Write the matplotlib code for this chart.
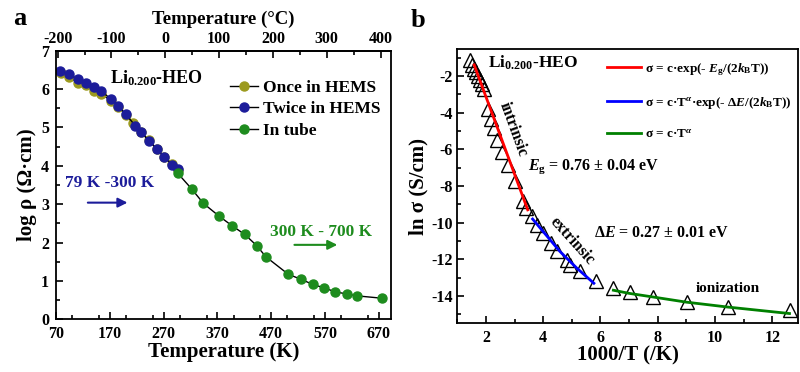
import numpy as np
import matplotlib
matplotlib.use("Agg")
import matplotlib.pyplot as plt
from matplotlib.ticker import MultipleLocator

plt.rcParams["font.family"] = ["Liberation Serif", "DejaVu Serif"]
plt.rcParams["font.weight"] = "bold"
plt.rcParams["axes.unicode_minus"] = False
plt.rcParams["mathtext.fontset"] = "custom"
plt.rcParams["mathtext.rm"] = "Liberation Serif:bold"
plt.rcParams["mathtext.it"] = "Liberation Serif:bold:italic"
plt.rcParams["mathtext.bf"] = "Liberation Serif:bold"

# panel a: log resistivity vs temperature (K)
T_once = [79, 94, 110, 125, 140, 153, 172, 186, 200, 213, 228, 243, 257, 271, 286, 297]
rho_once = [6.43, 6.32, 6.17, 6.10, 5.95, 5.88, 5.70, 5.53, 5.32, 5.12, 4.88, 4.66, 4.45, 4.24, 4.05, 3.88]
T_twice = [77, 94, 110, 125, 141, 153, 172, 186, 200, 217, 228, 243, 257, 271, 286, 297]
rho_twice = [6.47, 6.39, 6.26, 6.17, 6.05, 5.96, 5.74, 5.56, 5.34, 5.05, 4.87, 4.65, 4.44, 4.23, 4.03, 3.91]
T_tube = [296, 322, 344, 373, 398, 421, 443, 460, 502, 526, 547, 568, 588, 610, 630, 675]
rho_tube = [3.81, 3.40, 3.02, 2.69, 2.43, 2.21, 1.92, 1.63, 1.17, 1.04, 0.91, 0.82, 0.72, 0.66, 0.61, 0.55]

# panel b: ln sigma vs 1000/T
invT = [1.43, 1.52, 1.60, 1.66, 1.72, 1.80, 1.87, 1.95, 2.08, 2.18, 2.29, 2.40, 2.55, 2.78,
        3.02, 3.30, 3.40, 3.60, 3.77, 4.00, 4.26, 4.49, 4.82, 4.93, 5.28, 5.84,
        6.45, 7.03, 7.84, 9.03, 10.46, 12.62]
lnsig = [-1.15, -1.4, -1.62, -1.8, -2.0, -2.2, -2.45, -2.7, -3.8, -4.35, -4.85, -5.48, -6.12, -6.88,
         -7.75, -8.84, -9.2, -9.62, -10.1, -10.56, -11.1, -11.53, -12.05, -12.3, -12.65, -13.2,
         -13.57, -13.75, -14.03, -14.3, -14.57, -14.75]
fit_int_x = [1.59, 3.46]
fit_int_y = [-1.4, -9.3]
fit_ext_x = [3.63, 4.58, 5.17, 5.77]
fit_ext_y = [-9.8, -11.56, -12.47, -13.3]
fit_ion_x = [6.45, 7.0, 7.84, 9.0, 10.46, 12.6]
fit_ion_y = [-13.68, -13.85, -14.05, -14.33, -14.6, -14.95]

olive = "#9c9a1e"
navy = "#1c1c9a"
green = "#1e8c1e"

fig = plt.figure(figsize=(8, 3.72), dpi=100)
ax1 = fig.add_axes([0.07, 0.1417, 0.419, 0.722])
ax2 = fig.add_axes([0.5716, 0.1325, 0.426, 0.735])

ax1.plot(T_once, rho_once, "-o", color="k", lw=1, ms=6.5, mfc=olive, mec=olive, label="Once in HEMS")
ax1.plot(T_twice, rho_twice, "-o", color="k", lw=1, ms=6.5, mfc=navy, mec=navy, label="Twice in HEMS")
ax1.plot(T_tube, rho_tube, "-o", color="k", lw=1, ms=6.5, mfc=green, mec=green, label="In tube")
ax1.set_xlim(70, 693)
ax1.set_ylim(0, 7)
ax1.set_xticks(np.arange(70, 671, 100))
ax1.xaxis.set_minor_locator(MultipleLocator(50))
ax1.yaxis.set_major_locator(MultipleLocator(1))
ax1.yaxis.set_minor_locator(MultipleLocator(0.5))
ax1.tick_params(which="both", direction="in", labelsize=11.5, top=False, right=False)
ax1.tick_params(axis="x", pad=5)
ax1.tick_params(axis="y", pad=5)
ax1.tick_params(which="major", length=5, width=1.2)
ax1.tick_params(which="minor", length=3, width=1.2)
ax1.set_xlabel("Temperature (K)", fontsize=15, fontweight="bold", labelpad=0)
ax1.set_ylabel("log ρ (Ω·cm)", fontsize=15, fontweight="bold", labelpad=3)
top = ax1.secondary_xaxis("top", functions=(lambda t: t - 273.15, lambda c: c + 273.15))
top.set_xticks(np.arange(-200, 401, 100))
top.xaxis.set_minor_locator(MultipleLocator(50))
top.tick_params(which="both", direction="in", labelsize=11.5, pad=3)
top.tick_params(which="major", length=5, width=1.2)
top.tick_params(which="minor", length=3, width=1.2)
top.set_xlabel("Temperature (°C)", fontsize=13.5, fontweight="bold", labelpad=5)
for s in ax1.spines.values():
    s.set_linewidth(1.3)
top.spines["top"].set_linewidth(1.3)
ax1.legend(loc="upper right", frameon=False, fontsize=12.5, handlelength=1.6, handletextpad=0.3,
           labelspacing=0.3, borderaxespad=0.2, bbox_to_anchor=(1.0, 0.93))
ax1.text(257, 6.29, "Li$_{0.200}$-HEO", fontsize=13, ha="center", va="center")
ax1.text(170, 3.55, "79 K -300 K", fontsize=12.5, color=navy, ha="center", va="center")
ax1.annotate("", xy=(208, 3.04), xytext=(124, 3.04),
             arrowprops=dict(arrowstyle="-|>", color=navy, lw=1.5, mutation_scale=14))
ax1.text(562, 2.28, "300 K - 700 K", fontsize=12.5, color=green, ha="center", va="center")
ax1.annotate("", xy=(598, 1.94), xytext=(508, 1.94),
             arrowprops=dict(arrowstyle="-|>", color=green, lw=1.5, mutation_scale=14))
fig.text(0.025, 0.95, "a", fontsize=19, fontweight="bold", ha="center", va="center")

ax2.plot(invT, lnsig, "^", ms=10, mfc="none", mec="k", mew=1)
ax2.plot(fit_int_x, fit_int_y, color="red", lw=2, label=r"σ = c·exp(- $E_{\rm g}$/(2$k_{\rm B}$T))")
ax2.plot(fit_ext_x, fit_ext_y, color="blue", lw=2, label=r"σ = c·T$^{\alpha}$·exp(- Δ$E$/(2$k_{\rm B}$T))")
ax2.plot(fit_ion_x, fit_ion_y, color="green", lw=2, label=r"σ = c·T$^{\alpha}$")
ax2.set_xlim(1, 12.9)
ax2.set_ylim(-15.45, -0.55)
ax2.xaxis.set_major_locator(MultipleLocator(2))
ax2.xaxis.set_minor_locator(MultipleLocator(1))
ax2.yaxis.set_major_locator(MultipleLocator(2))
ax2.yaxis.set_minor_locator(MultipleLocator(1))
ax2.tick_params(which="both", direction="in", labelsize=11.5, top=False, right=False)
ax2.tick_params(axis="x", pad=5)
ax2.tick_params(which="major", length=5, width=1.2)
ax2.tick_params(which="minor", length=3, width=1.2)
for s in ax2.spines.values():
    s.set_linewidth(1.3)
ax2.set_xlabel("1000/T (/K)", fontsize=15, fontweight="bold", labelpad=0)
ax2.set_ylabel("ln σ (S/cm)", fontsize=15, fontweight="bold", labelpad=2)
ax2.legend(loc="upper left", bbox_to_anchor=(0.405, 1.0), frameon=False, fontsize=9.5,
           handlelength=2.6, handletextpad=0.3, labelspacing=1.3)
ax2.text(2.08, -1.29, "Li$_{0.200}$-HEO", fontsize=12.5, ha="left", va="center")
ax2.text(2.95, -4.9, "intrinsic", fontsize=11.5, rotation=-70, ha="center", va="center")
ax2.text(3.48, -6.94, r"$E_{\rm g}$ = 0.76 ± 0.04 eV", fontsize=11.5, ha="left", va="center")
ax2.text(5.01, -11.0, "extrinsic", fontsize=11.5, rotation=-48, ha="center", va="center")
ax2.text(8.13, -10.56, r"Δ$E$ = 0.27 ± 0.01 eV", fontsize=11.5, ha="center", va="center")
ax2.text(10.45, -13.57, "ionization", fontsize=11, ha="center", va="center")
fig.text(0.523, 0.945, "b", fontsize=19, fontweight="bold", ha="center", va="center")

fig.savefig("out.png", dpi=100)
